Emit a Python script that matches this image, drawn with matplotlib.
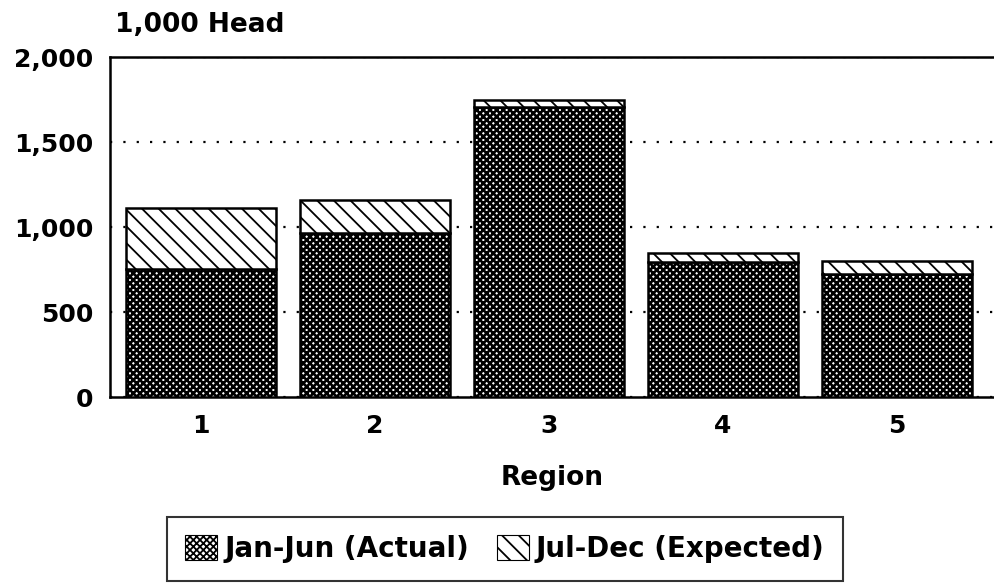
import matplotlib
matplotlib.use("Agg")
import matplotlib.pyplot as plt
from matplotlib.patches import Patch

regions = ["1", "2", "3", "4", "5"]
jan_jun = [755, 965, 1705, 795, 725]
jul_dec = [355, 195, 45, 55, 75]
yticks = [0, 500, 1000, 1500, 2000]
ytick_labels = ["0", "500", "1,000", "1,500", "2,000"]

plt.rcParams['font.family'] = ['DejaVu Sans']
plt.rcParams['font.weight'] = 'bold'

fig = plt.figure(figsize=(9.94, 5.86), dpi=100)
ax = fig.add_axes([0.1107, 0.3225, 0.8893, 0.5802])

x = list(range(1, len(regions) + 1))
w = 0.86
dark_hatch = 'xxxxx'
diag_hatch = '\\\\'
dark_lw = 1.9
diag_lw = 1.3

# Jan-Jun: dark lattice with white holes
plt.rcParams['hatch.linewidth'] = dark_lw
ax.bar(x, jan_jun, width=w, facecolor='white', edgecolor='black', hatch=dark_hatch, linewidth=1.8, zorder=3)
# Jul-Dec: white with diagonal lines
plt.rcParams['hatch.linewidth'] = diag_lw
ax.bar(x, jul_dec, bottom=jan_jun, width=w, facecolor='white', edgecolor='black', hatch=diag_hatch, linewidth=1.8, zorder=3)

ax.set_xlim(0.477, 5.557)
ax.set_ylim(0, 2000)
ax.set_yticks(yticks)
ax.set_yticklabels(ytick_labels)
ax.set_xticks(x)
ax.set_xticklabels(regions)
ax.tick_params(axis='both', length=0, labelsize=18, pad=12)
for lab in ax.get_xticklabels() + ax.get_yticklabels():
    lab.set_fontweight('heavy')
ax.yaxis.grid(True, linestyle=(0, (1, 5)), color='black', linewidth=1.6, zorder=1)
ax.set_axisbelow(True)
for s in ['left', 'top', 'bottom']:
    ax.spines[s].set_linewidth(1.8)
ax.spines['right'].set_visible(False)

ax.set_xlabel("Region", fontsize=19, fontweight='heavy', labelpad=20)
fig.text(0.116, 0.958, "1,000 Head", fontsize=19, fontweight='heavy', ha='left', va='center')

plt.rcParams['hatch.linewidth'] = dark_lw
h1 = Patch(facecolor='white', edgecolor='black', hatch=dark_hatch, linewidth=0.8)
plt.rcParams['hatch.linewidth'] = diag_lw
h2 = Patch(facecolor='white', edgecolor='black', hatch=diag_hatch, linewidth=0.8)
leg = fig.legend([h1, h2], ["Jan-Jun (Actual)", "Jul-Dec (Expected)"], ncol=2,
                 loc='center', bbox_to_anchor=(0.508, 0.063), frameon=True, fancybox=False,
                 edgecolor='black', prop={'weight': 'heavy', 'size': 20},
                 handlelength=1.15, handleheight=1.0, handletextpad=0.25, columnspacing=1.0,
                 borderpad=0.65, borderaxespad=0)
leg.get_frame().set_linewidth(1.5)

fig.savefig("out.png", dpi=100)
